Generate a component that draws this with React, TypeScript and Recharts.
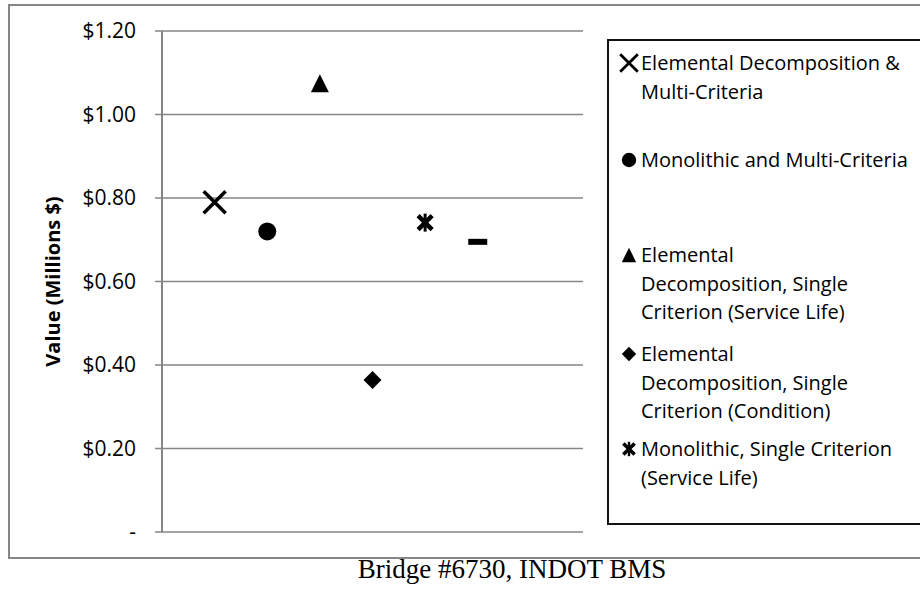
import React from 'react';
import { ScatterChart, Scatter, XAxis, YAxis, CartesianGrid } from 'recharts';

// one point per valuation approach, x is just the slot along the axis
const xSlots = [1, 2, 3, 4, 5, 6];
const seriesValues = [0.79, 0.72, 1.075, 0.364, 0.741, 0.695];
const seriesNames = [
  'Elemental Decomposition & Multi-Criteria',
  'Monolithic and Multi-Criteria',
  'Elemental Decomposition, Single Criterion (Service Life)',
  'Elemental Decomposition, Single Criterion (Condition)',
  'Monolithic, Single Criterion (Service Life)',
  'Monolithic, Single Criterion (Condition)',
];
// legend wraps the way the spreadsheet legend box does; last series is clipped out of the box
const legendLines = [
  ['Elemental Decomposition &', 'Multi-Criteria'],
  ['Monolithic and Multi-Criteria'],
  ['Elemental', 'Decomposition, Single', 'Criterion (Service Life)'],
  ['Elemental', 'Decomposition, Single', 'Criterion (Condition)'],
  ['Monolithic, Single Criterion', '(Service Life)'],
];
const legendTops = [47, 144, 239, 338, 433];
const yTicks = [0, 0.2, 0.4, 0.6, 0.8, 1.0, 1.2];

const GRAY = '#868686';
const SANS = '"Open Sans", Lato, sans-serif';

type MarkProps = { cx: number; cy: number; s?: number };

const XMark = ({ cx, cy, s = 1 }: MarkProps) => {
  const r = 11 * s;
  return (
    <path
      d={`M${cx - r},${cy - r}L${cx + r},${cy + r}M${cx - r},${cy + r}L${cx + r},${cy - r}`}
      stroke="#000"
      strokeWidth={3.5 * s}
      fill="none"
    />
  );
};

const DotMark = ({ cx, cy, s = 1 }: MarkProps) => <circle cx={cx} cy={cy} r={9 * s} fill="#000" />;

const TriangleMark = ({ cx, cy, s = 1 }: MarkProps) => {
  const h = 9 * s;
  return <polygon points={`${cx},${cy - h} ${cx + h},${cy + h} ${cx - h},${cy + h}`} fill="#000" />;
};

const DiamondMark = ({ cx, cy, s = 1 }: MarkProps) => {
  const h = 9 * s;
  return <polygon points={`${cx},${cy - h} ${cx + h},${cy} ${cx},${cy + h} ${cx - h},${cy}`} fill="#000" />;
};

const StarMark = ({ cx, cy, s = 1 }: MarkProps) => {
  const r = 7 * s;
  return (
    <g stroke="#000" fill="none">
      <path
        d={`M${cx - r},${cy - r}L${cx + r},${cy + r}M${cx - r},${cy + r}L${cx + r},${cy - r}`}
        strokeWidth={4.5 * s}
      />
      <path d={`M${cx},${cy - 9 * s}L${cx},${cy + 9 * s}`} strokeWidth={3 * s} />
    </g>
  );
};

const DashMark = ({ cx, cy, s = 1 }: MarkProps) => (
  <rect x={cx - 9.5 * s} y={cy - 3 * s} width={19 * s} height={6 * s} fill="#000" />
);

const marks = [XMark, DotMark, TriangleMark, DiamondMark, StarMark, DashMark];

const formatDollars = (v: number) => (v === 0 ? '-' : `$${v.toFixed(2)}`);

const App: React.FC = () => {
  return (
    <div style={{ position: 'absolute', left: 0, top: 0, width: 920, height: 589, overflow: 'hidden', background: '#fff' }}>
      {/* chart area frame, runs off the right edge */}
      <div
        style={{
          position: 'absolute',
          left: 8,
          top: 4,
          width: 930,
          height: 551,
          border: `2px solid ${GRAY}`,
        }}
      />
      <div style={{ position: 'absolute', left: 0, top: 0 }}>
        <ScatterChart width={920} height={589} margin={{ top: 31, right: 337, bottom: 57, left: 0 }}>
          <CartesianGrid horizontal vertical={false} stroke={GRAY} strokeWidth={1.5} />
          <XAxis type="number" dataKey="x" domain={[0, 8]} hide />
          <YAxis
            type="number"
            dataKey="y"
            domain={[0, 1.2]}
            ticks={yTicks}
            width={162}
            tickFormatter={formatDollars}
            axisLine={{ stroke: GRAY, strokeWidth: 2 }}
            tickLine={{ stroke: GRAY, strokeWidth: 1.5 }}
            tickSize={7}
            tickMargin={19}
            tick={{ fill: '#000', fontSize: 21, fontFamily: SANS }}
            label={{
              value: 'Value (Millions $)',
              angle: -90,
              position: 'insideLeft',
              offset: 53,
              style: { fill: '#000', fontSize: 20, fontWeight: 700, fontFamily: SANS, textAnchor: 'middle' },
            }}
          />
          {seriesValues.map((v, i) => {
            const Mark = marks[i];
            return (
              <Scatter
                key={seriesNames[i]}
                name={seriesNames[i]}
                data={[{ x: xSlots[i], y: v }]}
                isAnimationActive={false}
                shape={(p: any) => <Mark cx={p.cx} cy={p.cy} />}
              />
            );
          })}
        </ScatterChart>
      </div>

      {/* legend box */}
      <div
        style={{
          position: 'absolute',
          left: 607,
          top: 39,
          width: 320,
          height: 482,
          border: '2px solid #111',
          fontFamily: SANS,
          fontSize: 20,
          color: '#000',
        }}
      >
        {legendLines.map((lines, i) => {
          const Mark = marks[i];
          return (
            <div key={seriesNames[i]} style={{ position: 'absolute', left: 10, top: legendTops[i] - 39 }}>
              <svg width={20} height={28} style={{ position: 'absolute', left: 0, top: 0 }}>
                <Mark cx={10} cy={14} s={0.8} />
              </svg>
              <div style={{ position: 'absolute', left: 22, top: 0, whiteSpace: 'nowrap', lineHeight: '28.5px' }}>
                {lines.map((t) => (
                  <div key={t}>{t}</div>
                ))}
              </div>
            </div>
          );
        })}
      </div>

      <div
        style={{
          position: 'absolute',
          left: 312,
          top: 551,
          width: 400,
          textAlign: 'center',
          fontFamily: '"Liberation Serif", "Times New Roman", serif',
          fontSize: 27,
          color: '#000',
          lineHeight: '36px',
        }}
      >
        Bridge #6730, INDOT BMS
      </div>
    </div>
  );
};

export default App;
